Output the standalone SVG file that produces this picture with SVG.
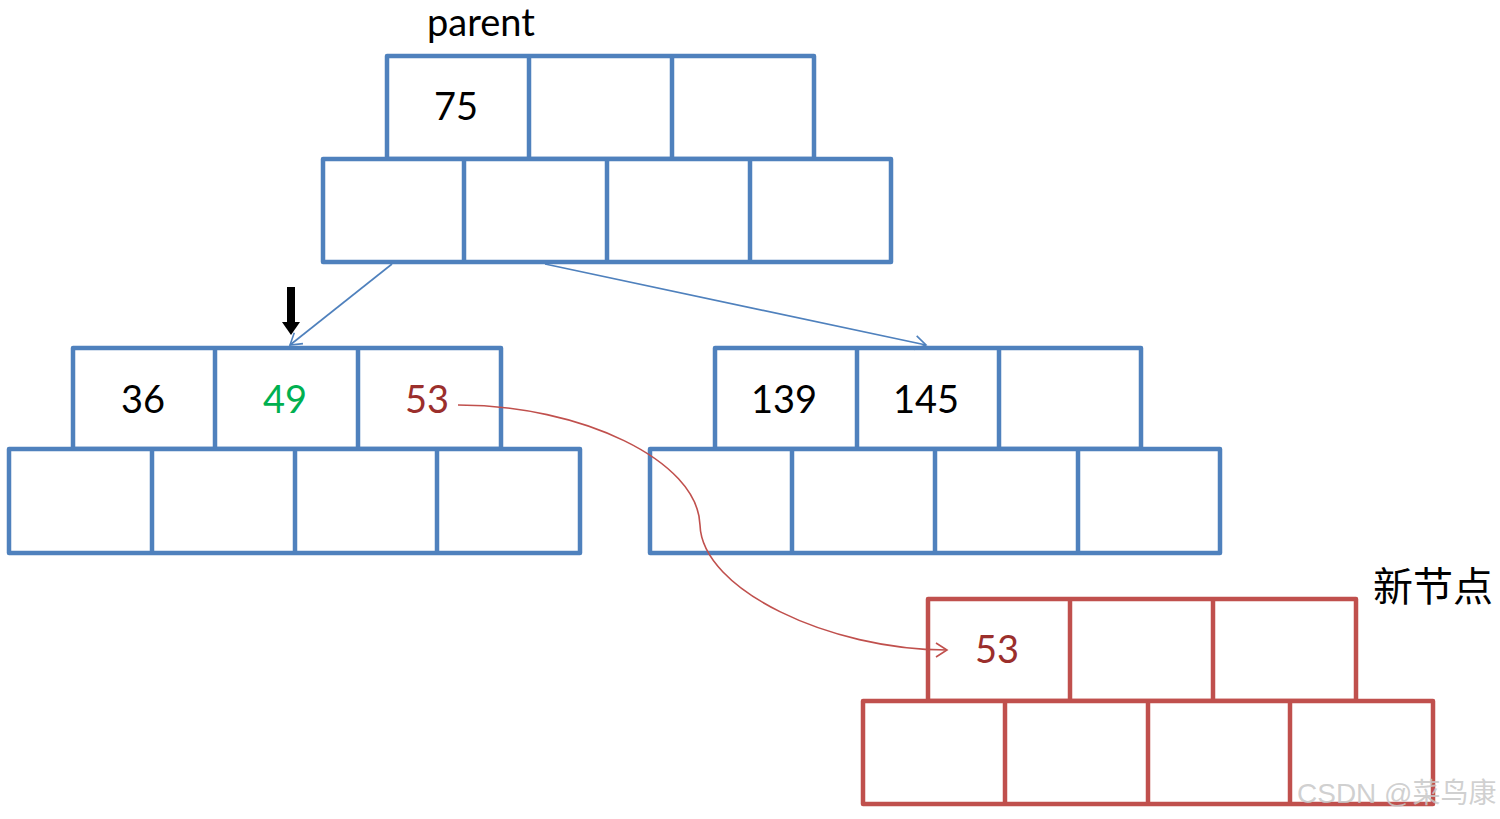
<svg xmlns="http://www.w3.org/2000/svg" width="1500" height="819" viewBox="0 0 1500 819">
<defs>
<style>
.bn{fill:#fff;stroke:#4F81BD;stroke-width:4.5;stroke-linejoin:round}
.bl{stroke:#4F81BD;stroke-width:4.5}
.rn{fill:#fff;stroke:#C0504D;stroke-width:4.5;stroke-linejoin:round}
.rl{stroke:#C0504D;stroke-width:4.5}
.t{font-family:Lato,"Open Sans",sans-serif;font-size:38px;text-anchor:middle;fill:#000}
</style>
<marker id="ab" markerUnits="userSpaceOnUse" markerWidth="20" markerHeight="20" refX="13" refY="8" orient="auto">
<path d="M2,1 L13,8 L2,15" fill="none" stroke="#4F81BD" stroke-width="1.6"/>
</marker>
<marker id="ar" markerUnits="userSpaceOnUse" markerWidth="20" markerHeight="20" refX="13" refY="8" orient="auto">
<path d="M2,1 L13,8 L2,15" fill="none" stroke="#C0504D" stroke-width="1.6"/>
</marker>
</defs>
<rect width="1500" height="819" fill="#fff"/>

<g id="parent">
<text x="481" y="36" style="font-family:Lato,'Open Sans',sans-serif;font-size:38px;fill:#000" text-anchor="middle">parent</text>
<rect class="bn" x="387" y="56" width="427" height="103"/>
<line class="bl" x1="529" y1="56" x2="529" y2="159"/>
<line class="bl" x1="672" y1="56" x2="672" y2="159"/>
<rect class="bn" x="323" y="159" width="568" height="103"/>
<line class="bl" x1="464" y1="159" x2="464" y2="262"/>
<line class="bl" x1="607" y1="159" x2="607" y2="262"/>
<line class="bl" x1="750" y1="159" x2="750" y2="262"/>
<text class="t" x="456" y="120">75</text>
</g>

<g id="left">
<rect class="bn" x="73" y="348" width="428" height="101"/>
<line class="bl" x1="215" y1="348" x2="215" y2="449"/>
<line class="bl" x1="358" y1="348" x2="358" y2="449"/>
<rect class="bn" x="9" y="449" width="571" height="104"/>
<line class="bl" x1="152" y1="449" x2="152" y2="553"/>
<line class="bl" x1="295" y1="449" x2="295" y2="553"/>
<line class="bl" x1="437" y1="449" x2="437" y2="553"/>
<text class="t" x="143" y="413">36</text>
<text class="t" x="285" y="413" style="fill:#00B050">49</text>
<text class="t" x="427" y="413" style="fill:#9B2F2C">53</text>
</g>

<g id="right">
<rect class="bn" x="715" y="348" width="426" height="101"/>
<line class="bl" x1="857" y1="348" x2="857" y2="449"/>
<line class="bl" x1="999" y1="348" x2="999" y2="449"/>
<rect class="bn" x="650" y="449" width="570" height="104"/>
<line class="bl" x1="792" y1="449" x2="792" y2="553"/>
<line class="bl" x1="935" y1="449" x2="935" y2="553"/>
<line class="bl" x1="1078" y1="449" x2="1078" y2="553"/>
<text class="t" x="784" y="413">139</text>
<text class="t" x="926" y="413">145</text>
</g>

<g id="newnode">
<text x="1373" y="601" style="font-family:'Noto Sans CJK SC',sans-serif;font-size:40px;fill:#000">新节点</text>
<rect class="rn" x="928" y="599" width="428" height="102"/>
<line class="rl" x1="1070" y1="599" x2="1070" y2="701"/>
<line class="rl" x1="1213" y1="599" x2="1213" y2="701"/>
<rect class="rn" x="863" y="701" width="570" height="103"/>
<line class="rl" x1="1005" y1="701" x2="1005" y2="804"/>
<line class="rl" x1="1148" y1="701" x2="1148" y2="804"/>
<line class="rl" x1="1290" y1="701" x2="1290" y2="804"/>
<text class="t" x="997" y="663" style="fill:#9B2F2C">53</text>
</g>

<g id="connectors">
<line x1="392" y1="264" x2="290" y2="345" stroke="#4F81BD" stroke-width="1.6" marker-end="url(#ab)"/>
<line x1="545" y1="264" x2="926" y2="345" stroke="#4F81BD" stroke-width="1.6" marker-end="url(#ab)"/>
<path d="M458,405 C580,405 698,460 700,525 C702,590 830,650 947,650" fill="none" stroke="#C0504D" stroke-width="1.6" marker-end="url(#ar)"/>
<g id="pointer">
<rect x="287" y="287" width="8" height="37" fill="#000"/>
<polygon points="282,322 300,322 291,335" fill="#000"/>
</g>
</g>

<text x="1297" y="803" style="font-family:'Liberation Sans','Noto Sans CJK SC',sans-serif;font-size:28px;fill:#c8c8c8;fill-opacity:0.85">CSDN @菜鸟康</text>
</svg>
